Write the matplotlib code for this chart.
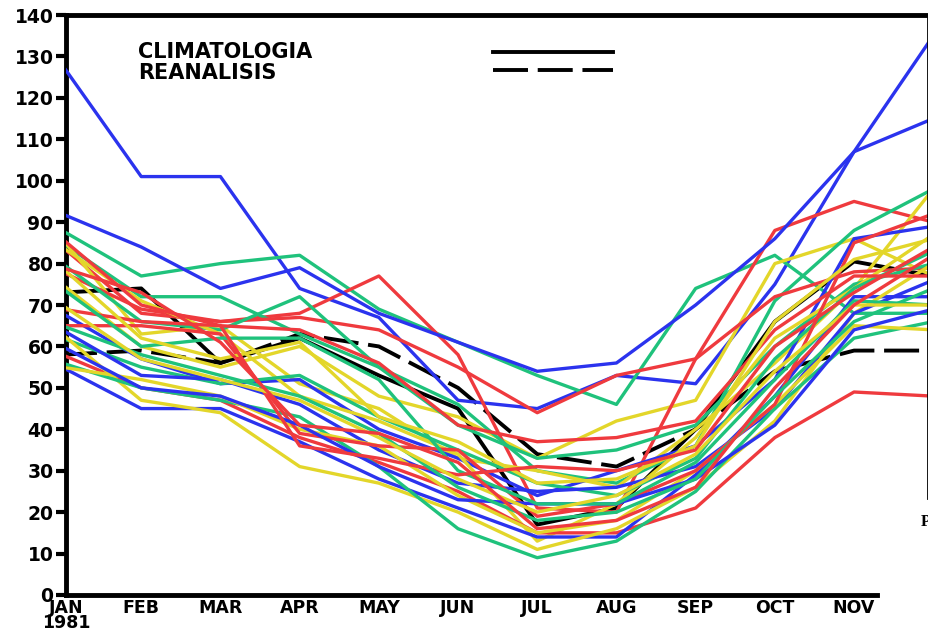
import matplotlib
matplotlib.use("Agg")
import matplotlib.pyplot as plt
from matplotlib.lines import Line2D

# ------------------------------------------------------------
# DATA (monthly values JAN..DEC)
# ------------------------------------------------------------
months = ['JAN\n1981', 'FEB', 'MAR', 'APR', 'MAY', 'JUN', 'JUL', 'AUG', 'SEP', 'OCT', 'NOV']

blue_runs = [
    [128, 101, 101, 74, 67, 47, 45, 53, 51, 75, 107, 115],
    [92, 84, 74, 79, 68, 61, 54, 56, 70, 86, 107, 135],
    [68, 57, 51, 52, 40, 33, 24, 30, 36, 52, 86, 89],
    [55, 45, 45, 37, 28, 21, 14, 14, 29, 48, 72, 72],
    [64, 53, 52, 46, 35, 27, 25, 26, 31, 45, 68, 76],
    [60, 50, 48, 41, 31, 23, 22, 22, 28, 41, 64, 69],
]
green_runs = [
    [88, 77, 80, 82, 69, 61, 53, 46, 74, 82, 68, 68],
    [85, 72, 72, 63, 55, 46, 30, 27, 36, 71, 88, 98],
    [80, 66, 64, 72, 55, 41, 33, 35, 41, 60, 75, 80],
    [62, 55, 51, 53, 43, 35, 27, 24, 33, 57, 74, 83],
    [56, 50, 47, 43, 31, 16, 9, 13, 25, 45, 62, 66],
    [74, 60, 62, 62, 52, 30, 22, 22, 32, 52, 71, 70],
    [65, 58, 53, 48, 39, 26, 18, 20, 28, 48, 66, 74],
]
red_runs = [
    [84, 68, 66, 68, 77, 58, 21, 20, 57, 88, 95, 90],
    [78, 69, 66, 67, 64, 55, 44, 53, 57, 72, 78, 79],
    [58, 50, 47, 38, 32, 25, 15, 15, 21, 38, 49, 48],
    [69, 66, 65, 64, 56, 41, 37, 38, 42, 64, 77, 77],
    [65, 65, 63, 39, 36, 35, 19, 22, 30, 46, 85, 92],
    [86, 70, 65, 36, 33, 29, 31, 30, 35, 60, 73, 84],
    [79, 73, 61, 41, 39, 32, 16, 18, 26, 50, 70, 82],
]
yellow_runs = [
    [75, 60, 55, 60, 48, 43, 33, 42, 47, 80, 86, 77],
    [86, 63, 65, 51, 45, 33, 30, 26, 40, 56, 74, 98],
    [84, 71, 63, 48, 42, 34, 13, 22, 38, 62, 74, 87],
    [63, 47, 44, 31, 27, 20, 11, 16, 26, 42, 68, 80],
    [55, 52, 48, 40, 36, 24, 15, 18, 30, 46, 65, 64],
    [79, 62, 57, 61, 43, 37, 27, 28, 36, 66, 81, 86],
    [70, 57, 52, 47, 38, 28, 20, 24, 34, 54, 70, 70],
]
climatologia = [73, 74, 56, 62, 53, 45, 17, 21, 40, 66, 80.5, 77]
reanalisis = [58, 59, 56, 63, 60, 50, 34, 31, 40, 54, 59, 59]

# ------------------------------------------------------------
# FIGURE
# ------------------------------------------------------------
fig = plt.figure(figsize=(9.29, 6.33), dpi=100)
W, H = 929, 633
step = 79.2          # px per month
x0 = 0.05            # view starts slightly right of JAN
ax = fig.add_axes([66 / W, 38 / H, (W - 66) / W, 580 / H])
ax.set_xlim(x0, x0 + (W - 66) / step)
ax.set_ylim(0, 140)

xs = list(range(12))
colors = {'blue': '#2b33ee', 'green': '#1fc27c', 'red': '#ef3a3e', 'yellow': '#e3d62a'}

ax.plot(xs, climatologia, color='black', lw=2.8, zorder=2)
ax.plot(xs, reanalisis, color='black', lw=2.8, linestyle=(0, (9, 2.5)), zorder=2)

groups = [(blue_runs, colors['blue']), (green_runs, colors['green']),
          (yellow_runs, colors['yellow']), (red_runs, colors['red'])]
for i in range(7):
    for runs, c in groups:
        if i < len(runs):
            ax.plot(xs, runs[i], color=c, lw=2.4, zorder=3)

# axes styling
for side in ['left', 'bottom', 'top']:
    ax.spines[side].set_linewidth(3.5)
ax.spines['right'].set_visible(False)
ax.spines['bottom'].set_bounds(x0, x0 + (877 - 66) / step)

ax.set_yticks(range(0, 141, 10))
ax.tick_params(axis='y', direction='out', length=7, width=3, pad=2,
               labelsize=13.5)
ax.set_xticks([x0] + list(range(1, 11)))
ax.set_xticklabels(months, fontsize=12.5, fontweight='heavy', linespacing=0.8)
ax.tick_params(axis='x', length=0, pad=3)
for lab in ax.get_yticklabels():
    lab.set_fontweight('heavy')

# legend drawn as text + lines in the upper left
ax.text(138 / W * W / (W - 66) - 66 / (W - 66), 1 - 37 / 580, 'CLIMATOLOGIA',
        transform=ax.transAxes, fontsize=15, fontweight='heavy', va='center')
ax.text(138 / W * W / (W - 66) - 66 / (W - 66), 1 - 58 / 580, 'REANALISIS',
        transform=ax.transAxes, fontsize=15, fontweight='heavy', va='center')
lx = [(493 - 66) / (W - 66), (613 - 66) / (W - 66)]
ax.add_line(Line2D(lx, [1 - 37 / 580] * 2, transform=ax.transAxes,
                   color='black', lw=2.8))
ax.add_line(Line2D(lx, [1 - 55 / 580] * 2, transform=ax.transAxes,
                   color='black', lw=2.8, linestyle=(0, (9, 2.5))))

# right frame edge and stray caption letter from the source page
fig.add_artist(Line2D([928 / W] * 2, [1 - 15 / H, 1 - 498 / H],
                      transform=fig.transFigure, color='black', lw=2))
fig.text(921 / W, 1 - 522 / H, 'P', family='Liberation Serif', fontsize=12,
         fontweight='bold', va='center', ha='left')

fig.savefig('out.png', dpi=100)
